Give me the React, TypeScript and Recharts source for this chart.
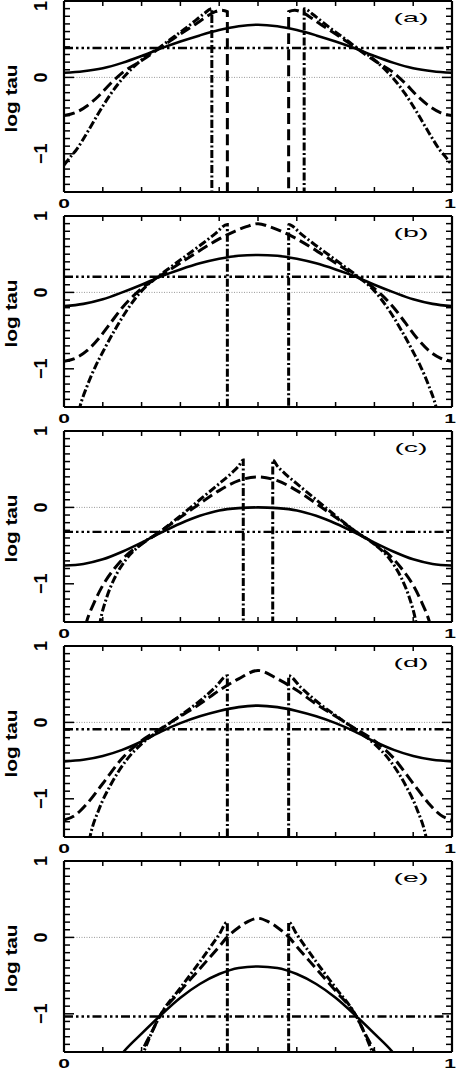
import React from 'react';
import { LineChart, Line, XAxis, YAxis, ReferenceLine } from 'recharts';

type P = [number, number][];

// ---------- ticks / labels ----------
const xTicks = [0, 0.1, 0.2, 0.3, 0.4, 0.5, 0.6, 0.7, 0.8, 0.9, 1];
const xTickLabels: Record<string, string> = { '0': '0', '1': '1' };
const yTicks = [
  -1.5, -1.4, -1.3, -1.2, -1.1, -1, -0.9, -0.8, -0.7, -0.6, -0.5, -0.4, -0.3,
  -0.2, -0.1, 0, 0.1, 0.2, 0.3, 0.4, 0.5, 0.6, 0.7, 0.8, 0.9, 1,
];
const yTickLabels: Record<string, string> = { '1': '1', '0': '0', '-1': '\u22121' };
const yDomain: [number, number] = [-1.5, 1];
const xDomain: [number, number] = [0, 1];
const yTitle = 'log tau';
const panelLabels = ['(a)', '(b)', '(c)', '(d)', '(e)'];

// ---------- panel (a) ----------
const solidA: P = [[0,0.06],[0.05,0.08],[0.1,0.12],[0.15,0.19],[0.2,0.28],[0.25,0.38],[0.3,0.47],[0.35,0.55],[0.4,0.62],[0.45,0.67],[0.5,0.69],[0.55,0.67],[0.6,0.62],[0.65,0.55],[0.7,0.47],[0.75,0.38],[0.8,0.28],[0.85,0.19],[0.9,0.12],[0.95,0.08],[1,0.06]];
const dashedA: P = [[0,-0.5],[0.03,-0.46],[0.06,-0.37],[0.09,-0.24],[0.12,-0.08],[0.15,0.06],[0.2,0.22],[0.243,0.37],[0.28,0.5],[0.31,0.6],[0.34,0.7],[0.36,0.77],[0.39,0.86],[0.405,0.88],[0.421,0.86],[0.4211,-3],[0.5789,-3],[0.579,0.86],[0.595,0.88],[0.61,0.86],[0.64,0.77],[0.66,0.7],[0.69,0.6],[0.72,0.5],[0.757,0.37],[0.8,0.22],[0.85,0.06],[0.88,-0.08],[0.91,-0.24],[0.94,-0.37],[0.97,-0.46],[1,-0.5]];
const dashdotA: P = [[0,-1.15],[0.015,-1.05],[0.03,-0.96],[0.06,-0.72],[0.09,-0.46],[0.12,-0.22],[0.15,-0.02],[0.18,0.14],[0.21,0.27],[0.243,0.38],[0.28,0.52],[0.31,0.63],[0.34,0.75],[0.36,0.83],[0.381,0.9],[0.3811,-3],[0.6189,-3],[0.619,0.9],[0.64,0.83],[0.66,0.75],[0.69,0.63],[0.72,0.52],[0.757,0.38],[0.79,0.27],[0.82,0.14],[0.85,-0.02],[0.88,-0.22],[0.91,-0.46],[0.94,-0.72],[0.97,-0.96],[0.985,-1.05],[1,-1.15]];
const levelA: P = [[0,0.385],[1,0.385]];

// ---------- panel (b) ----------
const solidB: P = [[0,-0.18],[0.05,-0.15],[0.1,-0.09],[0.15,0],[0.2,0.1],[0.25,0.21],[0.3,0.3],[0.35,0.38],[0.4,0.44],[0.45,0.48],[0.5,0.49],[0.55,0.48],[0.6,0.44],[0.65,0.38],[0.7,0.3],[0.75,0.21],[0.8,0.1],[0.85,0],[0.9,-0.09],[0.95,-0.15],[1,-0.18]];
const dashedB: P = [[0,-0.9],[0.03,-0.86],[0.06,-0.76],[0.09,-0.6],[0.12,-0.4],[0.15,-0.2],[0.18,-0.04],[0.21,0.09],[0.243,0.2],[0.28,0.32],[0.32,0.45],[0.36,0.58],[0.4,0.7],[0.44,0.8],[0.47,0.86],[0.5,0.9],[0.53,0.86],[0.56,0.8],[0.6,0.7],[0.64,0.58],[0.68,0.45],[0.72,0.32],[0.757,0.2],[0.79,0.09],[0.82,-0.04],[0.85,-0.2],[0.88,-0.4],[0.91,-0.6],[0.94,-0.76],[0.97,-0.86],[1,-0.9]];
const dashdotB: P = [[0.03,-1.75],[0.041,-1.5],[0.06,-1.22],[0.08,-0.98],[0.1,-0.78],[0.13,-0.5],[0.16,-0.25],[0.2,0.02],[0.243,0.21],[0.28,0.35],[0.32,0.5],[0.36,0.65],[0.39,0.77],[0.421,0.89],[0.4211,-3],[0.5789,-3],[0.579,0.89],[0.61,0.77],[0.64,0.65],[0.68,0.5],[0.72,0.35],[0.757,0.21],[0.8,0.02],[0.84,-0.25],[0.87,-0.5],[0.9,-0.78],[0.92,-0.98],[0.94,-1.22],[0.959,-1.5],[0.97,-1.75]];
const levelB: P = [[0,0.205],[1,0.205]];

// ---------- panel (c) ----------
const solidC: P = [[0,-0.76],[0.05,-0.74],[0.1,-0.68],[0.15,-0.58],[0.2,-0.46],[0.25,-0.33],[0.3,-0.21],[0.35,-0.11],[0.4,-0.04],[0.45,-0.01],[0.5,0],[0.55,-0.01],[0.6,-0.04],[0.65,-0.11],[0.7,-0.21],[0.75,-0.33],[0.8,-0.46],[0.85,-0.58],[0.9,-0.68],[0.95,-0.74],[1,-0.76]];
const dashedC: P = [[0.045,-1.75],[0.058,-1.5],[0.08,-1.22],[0.1,-1.02],[0.13,-0.8],[0.16,-0.63],[0.2,-0.48],[0.247,-0.32],[0.3,-0.13],[0.35,0.05],[0.4,0.22],[0.45,0.35],[0.5,0.4],[0.55,0.35],[0.6,0.22],[0.65,0.05],[0.7,-0.13],[0.753,-0.32],[0.8,-0.48],[0.84,-0.63],[0.87,-0.8],[0.9,-1.02],[0.92,-1.22],[0.942,-1.5],[0.955,-1.75]];
const dashdotC: P = [[0.085,-1.75],[0.093,-1.5],[0.11,-1.18],[0.13,-0.93],[0.16,-0.68],[0.2,-0.48],[0.247,-0.32],[0.3,-0.11],[0.35,0.1],[0.4,0.31],[0.43,0.44],[0.45,0.54],[0.462,0.62],[0.4621,-3],[0.5379,-3],[0.538,0.62],[0.55,0.54],[0.57,0.44],[0.6,0.31],[0.65,0.1],[0.7,-0.11],[0.753,-0.32],[0.8,-0.48],[0.84,-0.68],[0.87,-0.93],[0.89,-1.18],[0.907,-1.5],[0.915,-1.75]];
const levelC: P = [[0,-0.32],[1,-0.32]];

// ---------- panel (d) ----------
const solidD: P = [[0,-0.51],[0.05,-0.49],[0.1,-0.44],[0.15,-0.36],[0.2,-0.25],[0.25,-0.12],[0.3,-0.01],[0.35,0.08],[0.4,0.15],[0.45,0.2],[0.5,0.22],[0.55,0.2],[0.6,0.15],[0.65,0.08],[0.7,-0.01],[0.75,-0.12],[0.8,-0.25],[0.85,-0.36],[0.9,-0.44],[0.95,-0.49],[1,-0.51]];
const dashedD: P = [[0,-1.28],[0.03,-1.21],[0.06,-1.06],[0.1,-0.8],[0.15,-0.47],[0.2,-0.24],[0.25,-0.08],[0.3,0.08],[0.35,0.24],[0.4,0.42],[0.45,0.57],[0.5,0.68],[0.55,0.57],[0.6,0.42],[0.65,0.24],[0.7,0.08],[0.75,-0.08],[0.8,-0.24],[0.85,-0.47],[0.9,-0.8],[0.94,-1.06],[0.97,-1.21],[1,-1.28]];
const dashdotD: P = [[0.058,-1.75],[0.067,-1.5],[0.09,-1.14],[0.12,-0.82],[0.16,-0.5],[0.2,-0.28],[0.25,-0.09],[0.3,0.09],[0.35,0.28],[0.39,0.46],[0.421,0.61],[0.4211,-3],[0.5789,-3],[0.579,0.61],[0.61,0.46],[0.65,0.28],[0.7,0.09],[0.75,-0.09],[0.8,-0.28],[0.84,-0.5],[0.88,-0.82],[0.91,-1.14],[0.933,-1.5],[0.942,-1.75]];
const levelD: P = [[0,-0.09],[1,-0.09]];

// ---------- panel (e) ----------
const solidE: P = [[0.14,-1.58],[0.153,-1.5],[0.2,-1.26],[0.247,-1.03],[0.3,-0.79],[0.35,-0.61],[0.4,-0.48],[0.45,-0.4],[0.5,-0.38],[0.55,-0.4],[0.6,-0.48],[0.65,-0.61],[0.7,-0.79],[0.753,-1.03],[0.8,-1.26],[0.847,-1.5],[0.86,-1.58]];
const dashedE: P = [[0.19,-1.62],[0.2,-1.5],[0.225,-1.25],[0.247,-1.03],[0.3,-0.7],[0.35,-0.41],[0.4,-0.12],[0.42,0],[0.45,0.13],[0.475,0.21],[0.5,0.25],[0.525,0.21],[0.55,0.13],[0.58,0],[0.6,-0.12],[0.65,-0.41],[0.7,-0.7],[0.753,-1.03],[0.775,-1.25],[0.8,-1.5],[0.81,-1.62]];
const dashdotE: P = [[0.196,-1.6],[0.205,-1.5],[0.225,-1.26],[0.247,-1.03],[0.3,-0.66],[0.35,-0.32],[0.4,0.04],[0.421,0.2],[0.4211,-3],[0.5789,-3],[0.579,0.2],[0.6,0.04],[0.65,-0.32],[0.7,-0.66],[0.753,-1.03],[0.775,-1.26],[0.795,-1.5],[0.804,-1.6]];
const levelE: P = [[0,-1.035],[1,-1.035]];

const solids = [solidA, solidB, solidC, solidD, solidE];
const dasheds = [dashedA, dashedB, dashedC, dashedD, dashedE];
const dashdots = [dashdotA, dashdotB, dashdotC, dashdotD, dashdotE];
const levels = [levelA, levelB, levelC, levelD, levelE];

// ---------- layout ----------
const W = 456;
const H = 235;
const AX = 1; // axis box thickness
const M = { top: 10, right: 3, bottom: 32, left: 63 };
const PLOT_TOP = M.top + AX;
const PLOT_H = H - M.top - M.bottom - 2 * AX;
const STEP = 215;
const FONT = "'Liberation Sans', Arial, Helvetica, sans-serif";

const rows = (p: P) => p.map(([x, y]) => ({ x, y }));
const isMajor = (v: number) => Math.abs(v - Math.round(v)) < 1e-6;

const BottomTick = (props: any) => {
  const { x, y, payload } = props;
  const lab = xTickLabels[String(payload.value)];
  const lx = Math.min(x, W - 6);
  return (
    <g>
      <line x1={x} y1={y} x2={x} y2={y - 5} stroke="#000" strokeWidth={1.5} />
      {lab !== undefined && (
        <text
          transform={`translate(${lx},${y + 12}) scale(1.4,0.8)`}
          textAnchor="middle"
          dominantBaseline="central"
          fontSize={15}
          fontWeight="bold"
          fontFamily={FONT}
          fill="#000"
        >
          {lab}
        </text>
      )}
    </g>
  );
};

const TopTick = (props: any) => {
  const { x, y } = props;
  return <line x1={x} y1={y} x2={x} y2={y + 5} stroke="#000" strokeWidth={1.5} />;
};

const makeLeftTick = (chartTop: number) => (props: any) => {
  const { x, y, payload } = props;
  const v = payload.value as number;
  const major = isMajor(v);
  const lab = major ? yTickLabels[String(Math.round(v))] : undefined;
  const ly = Math.max(y, 6 - chartTop);
  return (
    <g>
      <line x1={x} y1={y} x2={x + (major ? 10 : 6)} y2={y} stroke="#000" strokeWidth={1.5} />
      {lab !== undefined && (
        <text
          transform={`translate(${x - 23},${ly}) rotate(-90)`}
          textAnchor="middle"
          dominantBaseline="central"
          fontSize={18}
          fontWeight="bold"
          fontFamily={FONT}
          fill="#000"
        >
          {lab}
        </text>
      )}
    </g>
  );
};

const RightTick = (props: any) => {
  const { x, y, payload } = props;
  const major = isMajor(payload.value as number);
  return <line x1={x} y1={y} x2={x - (major ? 10 : 6)} y2={y} stroke="#000" strokeWidth={1.5} />;
};

function Panel({ idx }: { idx: number }) {
  const chartTop = idx * STEP + 1 - PLOT_TOP;
  const LeftTick = makeLeftTick(chartTop);
  const axisLine = { stroke: '#000', strokeWidth: 2.2 };
  const common = {
    xAxisId: 'b',
    yAxisId: 'l',
    dataKey: 'y',
    dot: false,
    activeDot: false,
    isAnimationActive: false,
    type: 'monotone' as const,
    stroke: '#000',
    strokeLinecap: 'butt' as const,
  };
  return (
    <div style={{ position: 'absolute', left: 0, top: chartTop, width: W, height: H }}>
      <LineChart width={W} height={H} margin={M}>
        <XAxis
          xAxisId="b"
          dataKey="x"
          type="number"
          domain={xDomain}
          ticks={xTicks}
          interval={0}
          allowDataOverflow
          height={AX}
          tickSize={0}
          tickMargin={0}
          tickLine={false}
          axisLine={axisLine}
          tick={<BottomTick />}
        />
        <XAxis
          xAxisId="t"
          orientation="top"
          dataKey="x"
          type="number"
          domain={xDomain}
          ticks={xTicks}
          interval={0}
          allowDataOverflow
          height={AX}
          tickSize={0}
          tickMargin={0}
          tickLine={false}
          axisLine={axisLine}
          tick={<TopTick />}
        />
        <YAxis
          yAxisId="l"
          type="number"
          domain={yDomain}
          ticks={yTicks}
          interval={0}
          allowDataOverflow
          width={AX}
          tickSize={0}
          tickMargin={0}
          tickLine={false}
          axisLine={axisLine}
          tick={<LeftTick />}
          label={{
            content: () => (
              <text
                transform={`translate(11,${PLOT_TOP + PLOT_H / 2 + 2}) rotate(-90) scale(1.3,1)`}
                textAnchor="middle"
                dominantBaseline="central"
                fontSize={16}
                fontWeight="bold"
                fontFamily={FONT}
                fill="#000"
              >
                {yTitle}
              </text>
            ),
          }}
        />
        <YAxis
          yAxisId="r"
          orientation="right"
          type="number"
          domain={yDomain}
          ticks={yTicks}
          interval={0}
          allowDataOverflow
          width={AX}
          tickSize={0}
          tickMargin={0}
          tickLine={false}
          axisLine={axisLine}
          tick={<RightTick />}
          label={{
            content: () => (
              <text
                transform={`translate(411,${PLOT_TOP + 17}) scale(1.9,0.8)`}
                textAnchor="middle"
                dominantBaseline="central"
                fontSize={15}
                fontFamily={FONT}
                fill="#000"
              >
                {panelLabels[idx]}
              </text>
            ),
          }}
        />
        <ReferenceLine xAxisId="b" yAxisId="l" y={0} stroke="#555" strokeWidth={0.6} strokeDasharray="1 1.5" />
        <Line {...common} data={rows(solids[idx])} strokeWidth={2.6} />
        <Line {...common} data={rows(dasheds[idx])} strokeWidth={3} strokeDasharray="11 5" />
        <Line {...common} data={rows(dashdots[idx])} strokeWidth={3} strokeDasharray="8 2.5 2 2.5" />
        <Line {...common} data={rows(levels[idx])} strokeWidth={2.4} strokeDasharray="9 3 2.5 3 2.5 3 2.5 3" />
      </LineChart>
    </div>
  );
}

export default function App() {
  return (
    <div
      style={{
        position: 'absolute',
        left: 0,
        top: 0,
        width: W,
        height: 1070,
        overflow: 'hidden',
        background: '#fff',
      }}
    >
      {[0, 1, 2, 3, 4].map((i) => (
        <Panel key={i} idx={i} />
      ))}
    </div>
  );
}
